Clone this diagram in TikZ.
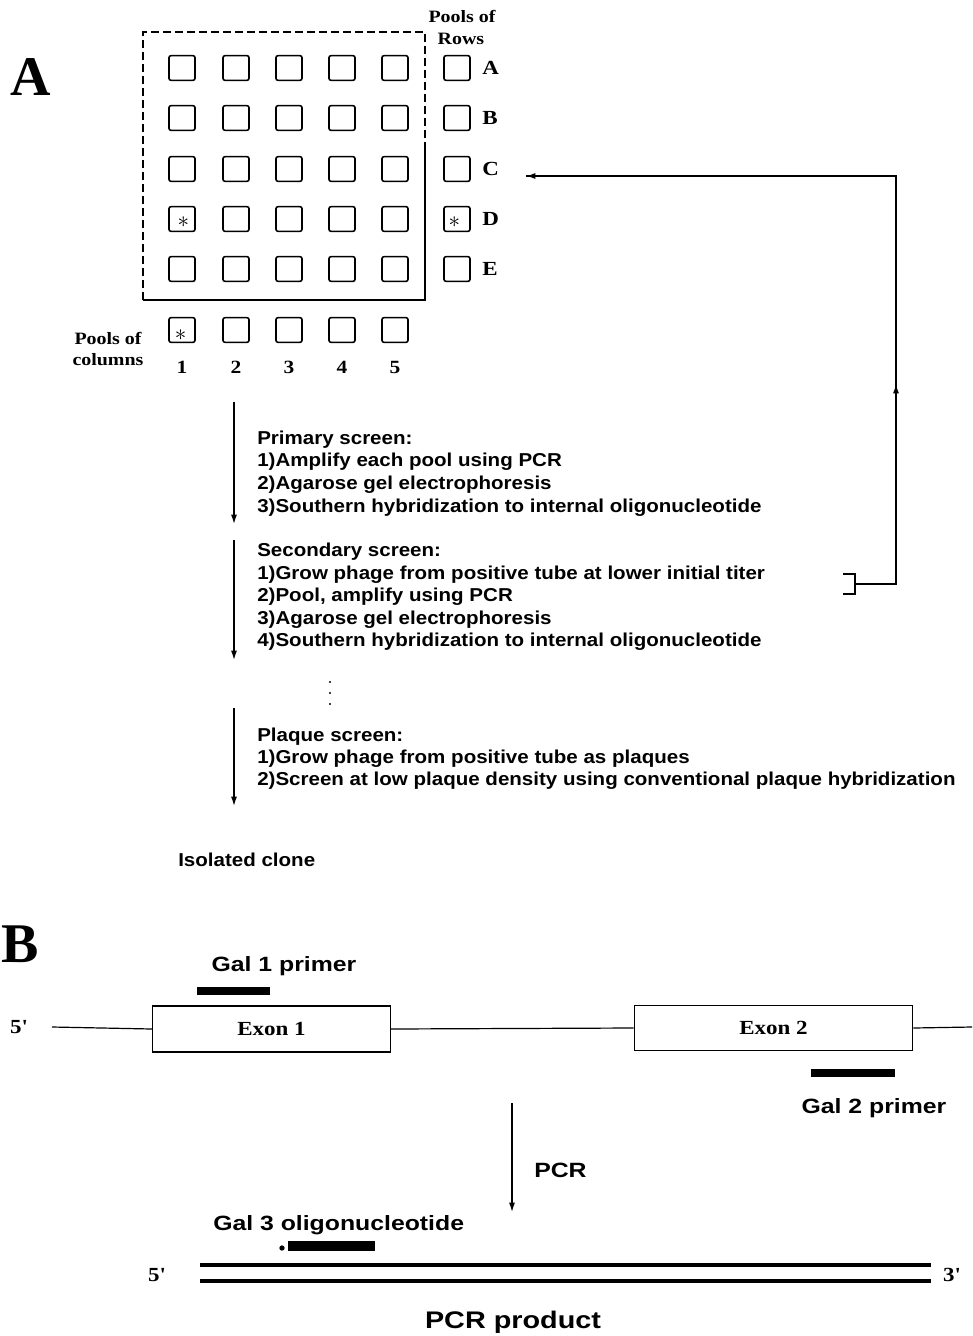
\documentclass[tikz,border=0pt]{standalone}
\usepackage{fontspec}
\setmainfont{Liberation Serif}
\setsansfont{Liberation Sans}
\newfontfamily\stepfont{Liberation Sans}[FakeStretch=1.10]
\newfontfamily\bsans{Liberation Sans}[FakeStretch=1.20]
\newfontfamily\wserif{Liberation Serif}[FakeStretch=1.15]
\usetikzlibrary{arrows.meta}
\tikzset{
  px/.style={x=0.75pt,y=-0.75pt},
  well/.style={draw, line width=1.2pt, rounded corners=1.5pt, minimum width=19.5pt, minimum height=18.5pt, inner sep=0pt},
  star/.style={inner sep=0pt, font=\bfseries\fontsize{18}{18}\selectfont},
  rowlab/.style={anchor=west, inner sep=0pt, font=\wserif\bfseries\fontsize{15}{15}\selectfont},
  poollab/.style={inner sep=0pt, font=\wserif\bfseries\fontsize{13}{13}\selectfont},
  numlab/.style={inner sep=0pt, font=\wserif\bfseries\fontsize{14}{14}\selectfont},
  big/.style={inner sep=0pt, font=\bfseries\fontsize{42}{42}\selectfont},
  step text/.style={anchor=base west, inner sep=0pt, font=\stepfont\bfseries\fontsize{14}{14}\selectfont},
  btext/.style={inner sep=0pt, font=\bsans\bfseries\fontsize{15.5}{15.5}\selectfont},
  exlab/.style={inner sep=0pt, font=\wserif\bfseries\fontsize{15}{15}\selectfont},
  flow/.style={line width=1pt, -{Latex[length=7pt,width=4.5pt]}},
  thin line/.style={line width=0.9pt},
  bar/.style={fill=black, draw=none},
}
\begin{document}
\begin{tikzpicture}[px]
\useasboundingbox (0,0) rectangle (972,1336);
% ---------- Part A ----------
\node[big] (labA) at (31,77) {A};
% frame
\draw[line width=0.9pt, dash pattern=on 6pt off 3pt] (143,300) -- (143,32) -- (425,32) -- (425,150);
\draw[line width=1pt] (425,150) -- (425,300) -- (143,300);
% grid
\foreach \c/\x in {1/182,2/236,3/289,4/342,5/395}{
  \foreach \r/\y in {A/68,B/118,C/169,D/219,E/269}{
    \node[well] (g\r\c) at (\x,\y) {};
  }
  \node[well] (q\c) at (\x,330) {};
  \node[numlab] (n\c) at (\x,367) {\c};
}
\foreach \r/\y in {A/68,B/118,C/169,D/219,E/269}{
  \node[well] (p\r) at (457,\y) {};
  \node[rowlab] (l\r) at (482,\y) {\r};
}
\node[star] (s1) at ([xshift=1pt,yshift=-2pt]gD1.center) {$\ast$};
\node[star] (s2) at ([xshift=-2pt,yshift=-2pt]pD.center) {$\ast$};
\node[star] (s3) at ([xshift=-1pt,yshift=-4pt]q1.center) {$\ast$};
\node[poollab] (pr1) at (462,16) {Pools of};
\node[poollab] (pr2) at (461,39) {Rows};
\node[poollab] (pc1) at (108,338) {Pools of};
\node[poollab] (pc2) at (108,360) {columns};
% steps
\coordinate (a1s) at (234,402); \coordinate (a1e) at (234,524);
\coordinate (a2s) at (234,540); \coordinate (a2e) at (234,660);
\coordinate (a3s) at (234,708); \coordinate (a3e) at (234,806);
\draw[flow] (a1s) -- (a1e);
\draw[flow] (a2s) -- (a2e);
\draw[flow] (a3s) -- (a3e);
\node[step text] (t11) at (257,444) {Primary screen:};
\node[step text] (t12) at (257,466) {1)Amplify each pool using PCR};
\node[step text] (t13) at (257,489) {2)Agarose gel electrophoresis};
\node[step text] (t14) at (257,512) {3)Southern hybridization to internal oligonucleotide};
\node[step text] (t21) at (257,556) {Secondary screen:};
\node[step text] (t22) at (257,579) {1)Grow phage from positive tube at lower initial titer};
\node[step text] (t23) at (257,601) {2)Pool, amplify using PCR};
\node[step text] (t24) at (257,624) {3)Agarose gel electrophoresis};
\node[step text] (t25) at (257,646) {4)Southern hybridization to internal oligonucleotide};
\foreach \k/\y in {1/682,2/693,3/704}{ \fill (330,\y) circle (0.9pt) coordinate (dot\k); }
\node[step text] (t31) at (257,741) {Plaque screen:};
\node[step text] (t32) at (257,763) {1)Grow phage from positive tube as plaques};
\node[step text] (t33) at (257,785) {2)Screen at low plaque density using conventional plaque hybridization};
\node[step text] (t4) at (178,866) {Isolated clone};
% feedback loop
\coordinate (bk1) at (843,574); \coordinate (bk2) at (855,574);
\coordinate (bk3) at (855,594); \coordinate (bk4) at (843,594);
\coordinate (bm) at (855,584); \coordinate (fb1) at (896,584);
\coordinate (fbmid) at (896,384); \coordinate (fb2) at (896,176);
\coordinate (fbend) at (526,176);
\draw[thin line] (bk1) -- (bk2) -- (bk3) -- (bk4);
\draw[thin line] (bm) -- (fb1) -- (fb2) -- (fbend);
\draw[flow] (fb1) -- (fbmid);
\draw[flow] (fb2) -- (fbend);
% ---------- Part B ----------
\node[big] (labB) at (20,944) {B};
\node[btext] (g1t) at (284,966) {Gal 1 primer};
\fill[bar] (197,987) rectangle (270,995);
\node[exlab] (p5a) at (19,1027) {5'};
\node[draw, thin line, minimum width=178.5pt, minimum height=34.5pt, inner sep=0pt] (ex1) at (271.5,1029) {};
\node[exlab] at (ex1) {Exon 1};
\node[draw, thin line, minimum width=209pt, minimum height=33.75pt, inner sep=0pt] (ex2) at (773.5,1028) {};
\node[exlab] at (ex2) {Exon 2};
\coordinate (l0) at (52,1027); \coordinate (l9) at (972,1027);
\draw[thin line] (l0) -- (ex1.west);
\draw[thin line] (ex1.east) -- (ex2.west);
\draw[thin line] (ex2.east) -- (l9);
\fill[bar] (811,1069) rectangle (895,1077);
\node[btext] (g2t) at (874,1108) {Gal 2 primer};
\coordinate (pcrs) at (512,1103); \coordinate (pcre) at (512,1212);
\draw[flow] (pcrs) -- (pcre);
\node[btext, anchor=west] (pcrt) at (534,1170) {PCR};
\node[btext, anchor=west] (g3t) at (213,1225) {Gal 3 oligonucleotide};
\fill (282,1248) circle (2pt) coordinate (g3dot);
\fill[bar] (288,1241) rectangle (375,1251);
\coordinate (d1a) at (200,1265); \coordinate (d1b) at (931,1265);
\coordinate (d2a) at (200,1281); \coordinate (d2b) at (931,1281);
\draw[line width=3pt] (d1a) -- (d1b);
\draw[line width=3pt] (d2a) -- (d2b);
\node[exlab] (p5b) at (157,1275) {5'};
\node[exlab] (p3b) at (952,1275) {3'};
\node[inner sep=0pt, font=\bsans\bfseries\fontsize{18}{18}\selectfont] (prod) at (513,1322) {PCR product};
\end{tikzpicture}
\end{document}
